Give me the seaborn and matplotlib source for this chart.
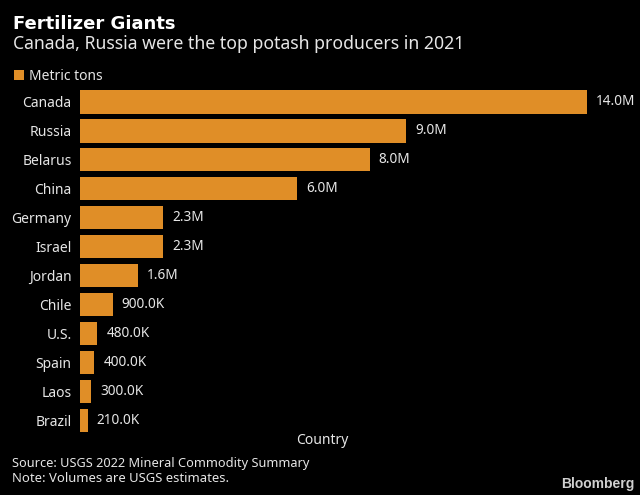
import matplotlib
matplotlib.use("Agg")
import matplotlib.pyplot as plt
import pandas as pd
import seaborn as sns

countries = ["Canada", "Russia", "Belarus", "China", "Germany", "Israel", "Jordan", "Chile", "U.S.", "Spain", "Laos", "Brazil"]
tons = [14000000, 9000000, 8000000, 6000000, 2300000, 2300000, 1600000, 900000, 480000, 400000, 300000, 210000]
value_labels = ["14.0M", "9.0M", "8.0M", "6.0M", "2.3M", "2.3M", "1.6M", "900.0K", "480.0K", "400.0K", "300.0K", "210.0K"]

sns.set_theme(style="dark")
plt.rcParams["font.family"] = ["Noto Sans", "DejaVu Sans"]
BG = "#000000"; FG = "#e6e6e6"; BAR = "#e08e27"
df = pd.DataFrame({"Country": countries, "Metric tons": tons})

fig = plt.figure(figsize=(6.4, 4.95), dpi=100, facecolor=BG)
ax = fig.add_axes([80/640, 1-435/495, 507/640*1.06, 347.5/495], facecolor=BG)
sns.barplot(data=df, y="Country", x="Metric tons", color=BAR, saturation=1, width=0.8, ax=ax,
            label="Metric tons", edgecolor="none", linewidth=0)
ax.set_xlim(0, 14000000*1.06)
ax.set_ylim(11.5, -0.5)
for c in ax.containers:
    ax.bar_label(c, labels=value_labels, padding=6.5, color=FG, fontsize=9.8)
for s in ax.spines.values():
    s.set_visible(False)
ax.grid(False)
ax.set_xticks([])
ax.set_xlabel(""); ax.set_ylabel("")
ax.tick_params(axis="y", length=0, pad=6, labelcolor=FG, labelsize=10)
ax.legend(loc="lower left", bbox_to_anchor=(14/640, 1-84/495), bbox_transform=fig.transFigure, frameon=False,
          handlelength=0.75, handleheight=0.75, handletextpad=0.3, borderpad=0, borderaxespad=0,
          labelcolor=FG, fontsize=10)

fig.text(13/640, 1-24/495, "Fertilizer Giants", color="white", fontsize=13, fontweight="bold",
         family="DejaVu Sans", va="center")
fig.text(13/640, 1-44/495, "Canada, Russia were the top potash producers in 2021", color=FG, fontsize=12.7, va="center")
fig.text(322/640, 1-441/495, "Country", color=FG, fontsize=10, ha="center", va="center")
fig.text(12/640, 1-464/495, "Source: USGS 2022 Mineral Commodity Summary", color=FG, fontsize=9.2, va="center")
fig.text(12/640, 1-479/495, "Note: Volumes are USGS estimates.", color=FG, fontsize=9.4, va="center")
fig.text(635/640, 1-484/495, "Bloomberg", color="#d0d0d0", fontsize=10, fontweight="bold", family="Liberation Sans",
         ha="right", va="center")
fig.savefig("out.png", dpi=100, facecolor=BG)
